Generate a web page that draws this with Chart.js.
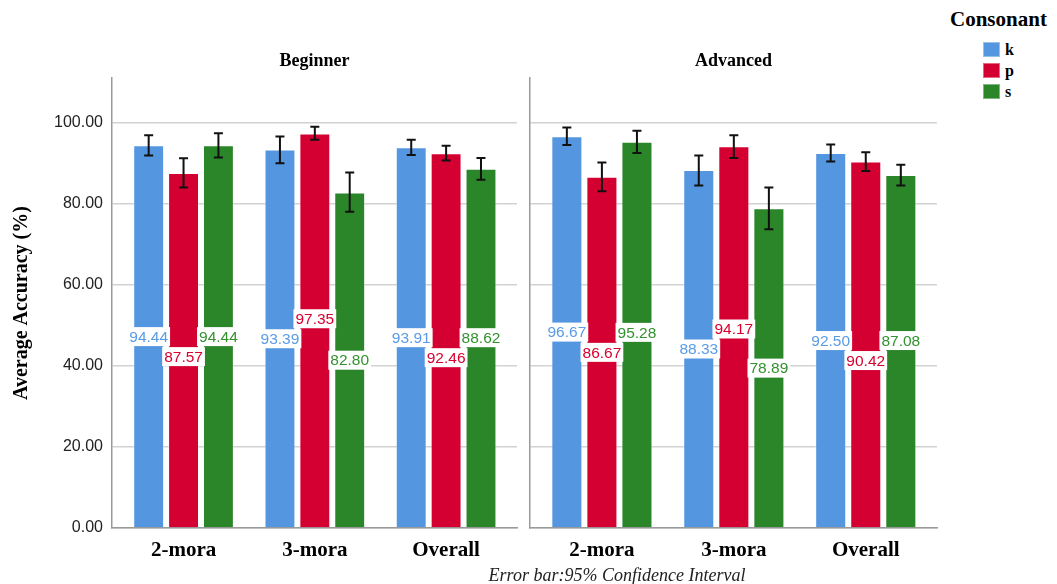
<!DOCTYPE html>
<html>
<head>
<meta charset="utf-8">
<script src="https://cdn.jsdelivr.net/npm/chart.js@4.4.1/dist/chart.umd.min.js"></script>
<style>
  body { margin: 0; background: #fff; }
  #wrap { position: relative; width: 1057px; height: 584px; overflow: hidden; font-family: "Liberation Serif", serif; }
  #beginner { position: absolute; left: 0; top: 0; }
  #advanced { position: absolute; left: 520px; top: 0; }
  .legendTitle { position: absolute; left: 950px; top: 6px; font-size: 21px; font-weight: bold; line-height: 26px; }
  .legendItem { position: absolute; left: 983px; height: 18px; font-size: 16px; font-weight: bold; line-height: 16px; }
  .legendItem span { display: inline-block; width: 17px; height: 15px; margin-right: 5px; vertical-align: top; border: 1px solid rgba(255,255,255,0.4); box-sizing: border-box; }
  .note { position: absolute; left: 617px; top: 565px; transform: translateX(-50%); font-size: 18px; font-style: italic; line-height: 20px; white-space: nowrap; color: #222; }
</style>
</head>
<body>
<div id="wrap">
  <canvas id="beginner" width="520" height="584"></canvas>
  <canvas id="advanced" width="420" height="584"></canvas>
  <div class="legendTitle">Consonant</div>
  <div id="legend"></div>
  <div class="note">Error bar:95% Confidence Interval</div>
</div>
<script>
// categories and series
const categories = ['2-mora', '3-mora', 'Overall'];
const consonants = ['k', 'p', 's'];
const barColors = ['#5596e0', '#d50032', '#2b8529'];
const labelColors = ['#5a9be6', '#d9002e', '#33922f'];

// Beginner means + 95% CI
const beginnerK = [94.44, 93.39, 93.91];
const beginnerP = [87.57, 97.35, 92.46];
const beginnerS = [94.44, 82.80, 88.62];
const beginnerKLow = [91.9, 90.0, 92.0];
const beginnerKHigh = [96.9, 96.6, 95.8];
const beginnerPLow = [84.0, 95.8, 90.7];
const beginnerPHigh = [91.2, 99.0, 94.3];
const beginnerSLow = [91.4, 78.0, 85.9];
const beginnerSHigh = [97.4, 87.7, 91.3];

// Advanced means + 95% CI
const advancedK = [96.67, 88.33, 92.50];
const advancedP = [86.67, 94.17, 90.42];
const advancedS = [95.28, 78.89, 87.08];
const advancedKLow = [94.5, 84.5, 90.4];
const advancedKHigh = [98.8, 91.9, 94.6];
const advancedPLow = [83.1, 91.3, 88.1];
const advancedPHigh = [90.2, 96.9, 92.7];
const advancedSLow = [92.5, 73.7, 84.5];
const advancedSHigh = [98.0, 84.0, 89.6];

const yTicks = [0, 20, 40, 60, 80, 100];

// error bars drawn on top of each bar
const errorBars = {
  id: 'errorBars',
  afterDatasetsDraw(chart) {
    const ctx = chart.ctx;
    const y = chart.scales.y;
    ctx.save();
    ctx.strokeStyle = '#111';
    ctx.lineWidth = 2;
    chart.data.datasets.forEach((ds, i) => {
      chart.getDatasetMeta(i).data.forEach((bar, j) => {
        const top = y.getPixelForValue(ds.ciHigh[j]);
        const bot = y.getPixelForValue(ds.ciLow[j]);
        ctx.beginPath();
        ctx.moveTo(bar.x, top); ctx.lineTo(bar.x, bot);
        ctx.moveTo(bar.x - 4.5, top); ctx.lineTo(bar.x + 4.5, top);
        ctx.moveTo(bar.x - 4.5, bot); ctx.lineTo(bar.x + 4.5, bot);
        ctx.stroke();
      });
    });
    ctx.restore();
  }
};

// value labels at half bar height, nudged apart so neighbours don't overlap
const valueLabels = {
  id: 'valueLabels',
  afterDatasetsDraw(chart) {
    const ctx = chart.ctx;
    const y = chart.scales.y;
    const sep = 20;
    ctx.save();
    ctx.font = '15.5px "Liberation Sans", Arial, sans-serif';
    ctx.textAlign = 'center';
    ctx.textBaseline = 'middle';
    categories.forEach((c, j) => {
      let prev = null;
      chart.data.datasets.forEach((ds, i) => {
        const bar = chart.getDatasetMeta(i).data[j];
        const v = ds.data[j].y;
        let py = y.getPixelForValue(v / 2);
        if (prev !== null && Math.abs(py - prev) < sep) {
          py = py >= prev ? prev + sep : prev - sep;
        }
        prev = py;
        const txt = v.toFixed(2);
        const w = ctx.measureText(txt).width + 4;
        ctx.fillStyle = '#fff';
        ctx.fillRect(bar.x - w / 2, py - 9.5, w, 19);
        ctx.fillStyle = labelColors[i];
        ctx.fillText(txt, bar.x, py + 1);
      });
    });
    ctx.restore();
  }
};

function makeDatasets(means, lows, highs) {
  return consonants.map((k, i) => ({
    label: k,
    data: means[i].map((v, j) => ({ x: j, y: v })),
    ciLow: lows[i],
    ciHigh: highs[i],
    backgroundColor: barColors[i],
    borderColor: 'rgba(255,255,255,0.35)',
    borderWidth: 1,
    categoryPercentage: 0.797,
    barPercentage: 0.886
  }));
}

function makeChart(id, title, datasets, isLeft) {
  return new Chart(document.getElementById(id), {
    type: 'bar',
    data: { datasets },
    options: {
      responsive: false,
      animation: false,
      layout: { padding: { left: isLeft ? 6 : 10, right: 3, top: 50.5, bottom: 0 } },
      plugins: {
        legend: { display: false },
        tooltip: { enabled: false },
        title: {
          display: true, text: title, fullSize: false, color: '#000',
          font: { family: '"Liberation Serif", serif', weight: 'bold', size: 18 },
          padding: { top: 0, bottom: 6 }
        }
      },
      scales: {
        x: {
          type: 'linear',
          min: -0.545, max: 2.54,
          offset: false,
          grid: { display: false },
          border: { color: '#9a9a9a', width: 1.5 },
          ticks: {
            color: '#000', padding: 2,
            font: { family: '"Liberation Serif", serif', weight: 'bold', size: 21 },
            callback: v => categories[v]
          },
          afterBuildTicks(s) { s.ticks = categories.map((c, j) => ({ value: j })); },
          afterFit(s) { s.height = 56; }
        },
        y: {
          min: 0, max: 111,
          grid: { color: '#d2d2d2', lineWidth: 1.5, drawTicks: false },
          border: { color: '#9a9a9a', width: 1.5 },
          ticks: {
            display: isLeft, padding: 9, color: '#222',
            font: { family: '"Liberation Sans", Arial, sans-serif', size: 16 },
            callback: v => v.toFixed(2)
          },
          afterBuildTicks(s) { s.ticks = yTicks.map(v => ({ value: v })); },
          title: {
            display: isLeft, text: 'Average Accuracy (%)', color: '#000',
            font: { family: '"Liberation Serif", serif', weight: 'bold', size: 20 },
            padding: { top: 4, bottom: 0 }
          },
          afterFit(s) { s.width = isLeft ? 106 : 0; }
        }
      }
    },
    plugins: [errorBars, valueLabels]
  });
}

makeChart('beginner', 'Beginner', makeDatasets(
  [beginnerK, beginnerP, beginnerS],
  [beginnerKLow, beginnerPLow, beginnerSLow],
  [beginnerKHigh, beginnerPHigh, beginnerSHigh]), true);

makeChart('advanced', 'Advanced', makeDatasets(
  [advancedK, advancedP, advancedS],
  [advancedKLow, advancedPLow, advancedSLow],
  [advancedKHigh, advancedPHigh, advancedSHigh]), false);

// legend
const legend = document.getElementById('legend');
consonants.forEach((k, i) => {
  const d = document.createElement('div');
  d.className = 'legendItem';
  d.style.top = (42 + i * 21) + 'px';
  d.innerHTML = '<span style="background:' + barColors[i] + '"></span>' + k;
  legend.appendChild(d);
});
</script>
</body>
</html>
